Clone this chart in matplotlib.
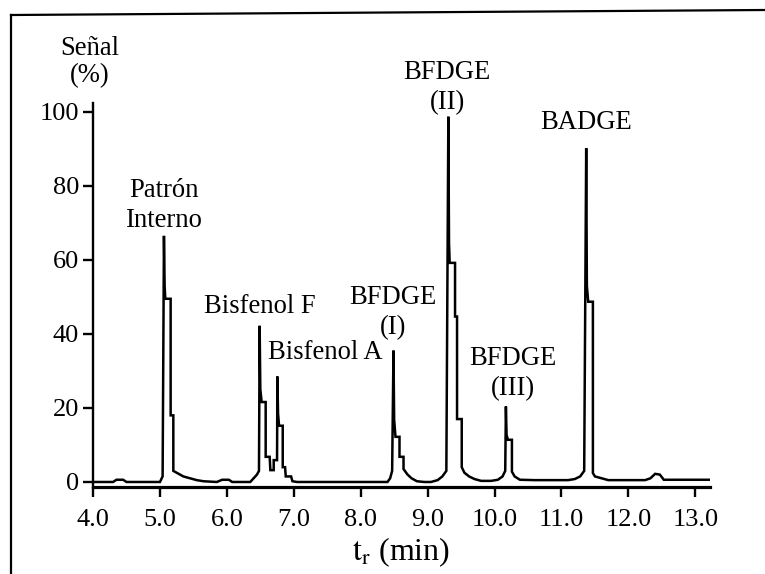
import matplotlib
matplotlib.use("Agg")
import matplotlib.pyplot as plt
from matplotlib.lines import Line2D

plt.rcParams['font.family'] = ['Liberation Serif', 'DejaVu Serif']
plt.rcParams['mathtext.fontset'] = 'stix'

# chromatogram trace: retention time (min) and signal (%)
rt_min = [
    4.00, 4.30, 4.35, 4.45, 4.50, 5.00, 5.04,
    5.06, 5.07, 5.08, 5.16, 5.16, 5.20, 5.20, 5.25, 5.30, 5.35, 5.45, 5.55, 5.65, 5.85,
    5.93, 6.03, 6.08, 6.35, 6.40, 6.45, 6.48,
    6.49, 6.50, 6.52, 6.58, 6.58, 6.64, 6.65, 6.70, 6.70, 6.75,
    6.755, 6.765, 6.78, 6.835, 6.835, 6.87, 6.88, 6.96, 6.98, 7.05,
    8.40, 8.44, 8.47,
    8.49, 8.50, 8.52, 8.58, 8.58, 8.64, 8.64, 8.70, 8.76, 8.84, 8.95,
    9.05, 9.15, 9.22, 9.28,
    9.31, 9.32, 9.33, 9.41, 9.41, 9.44, 9.44, 9.51, 9.51, 9.55, 9.62, 9.70, 9.80,
    9.95, 10.05, 10.12, 10.16,
    10.17, 10.18, 10.20, 10.26, 10.26, 10.30, 10.38, 10.60, 11.10, 11.20, 11.28, 11.34,
    11.37, 11.38, 11.40, 11.47, 11.47, 11.50, 11.60, 11.70,
    12.25, 12.33, 12.40, 12.47, 12.53, 13.22,
]
signal_pct = [
    0.0, 0.0, 0.6, 0.6, 0.0, 0.0, 1.5,
    66.5, 53.0, 49.5, 49.5, 18.0, 18.0, 3.0, 2.5, 2.0, 1.5, 1.0, 0.5, 0.2, 0.0,
    0.6, 0.6, 0.0, 0.0, 1.0, 2.0, 3.0,
    42.2, 25.0, 21.6, 21.6, 6.8, 6.8, 3.2, 3.2, 5.9, 5.9,
    28.5, 18.5, 15.2, 15.2, 4.0, 4.0, 1.5, 1.5, 0.2, 0.0,
    0.0, 1.0, 3.0,
    35.5, 16.8, 12.2, 12.2, 6.8, 6.8, 3.5, 2.0, 1.0, 0.2, 0.0,
    0.0, 0.5, 1.5, 3.0,
    98.7, 64.5, 59.2, 59.2, 44.7, 44.7, 17.0, 17.0, 4.0, 2.5, 1.5, 0.8, 0.3,
    0.3, 0.6, 1.5, 3.0,
    20.4, 12.7, 11.4, 11.4, 2.8, 1.5, 0.6, 0.5, 0.5, 0.8, 1.5, 3.0,
    90.2, 53.0, 48.7, 48.7, 2.4, 1.5, 1.0, 0.5,
    0.5, 1.0, 2.2, 2.0, 0.6, 0.6,
]

# peak labels
peak_labels = ["Patrón\nInterno", "Bisfenol F", "Bisfenol A", "BFDGE\n(I)",
               "BFDGE\n(II)", "BFDGE\n(III)", "BADGE"]
label_rt = [5.06, 6.49, 7.47, 8.48, 9.29, 10.28, 11.37]
label_y = [74.6, 47.3, 35.0, 45.7, 106.5, 29.3, 97.0]

fig = plt.figure(figsize=(7.65, 5.74), dpi=100)
ax = fig.add_axes([0.1216, 0.1516, 0.8065, 0.669])

ax.plot(rt_min, signal_pct, color='black', lw=1.8, solid_joinstyle='miter')

for txt, xx, yy in zip(peak_labels, label_rt, label_y):
    ax.text(xx, yy, txt, ha='center', va='center', fontsize=19.2,
            linespacing=1.25, clip_on=False)

ax.set_xlim(4.0, 13.22)
ax.set_ylim(-1.35, 102.4)
ax.set_xticks([4, 5, 6, 7, 8, 9, 10, 11, 12, 13])
ax.set_xticklabels(["4.0", "5.0", "6.0", "7.0", "8.0", "9.0", "10.0",
                    "11.0", "12.0", "13.0"])
ax.set_yticks([0, 20, 40, 60, 80, 100])

for side in ['top', 'right']:
    ax.spines[side].set_visible(False)
ax.spines['left'].set_linewidth(1.7)
ax.spines['bottom'].set_linewidth(2.3)
ax.tick_params(axis='both', direction='out', length=7, width=1.7,
               labelsize=19, colors='black')
ax.tick_params(axis='x', pad=9)
ax.tick_params(axis='y', pad=3)

ax.set_xlabel(r"$\mathrm{t_r}$ (min)", fontsize=23, labelpad=3)
fig.text(90 / 765, 1 - 62 / 574, "Señal\n(%)", ha='center', va='center',
         fontsize=19.2, linespacing=1.1)

# frame around the figure
fig.add_artist(Line2D([11 / 765, 11 / 765], [0, 1 - 15 / 574],
                      color='black', lw=1.6, transform=fig.transFigure))
fig.add_artist(Line2D([11 / 765, 1], [1 - 15 / 574, 1 - 10 / 574],
                      color='black', lw=1.6, transform=fig.transFigure))

fig.savefig("out.png", dpi=100, facecolor='white')
